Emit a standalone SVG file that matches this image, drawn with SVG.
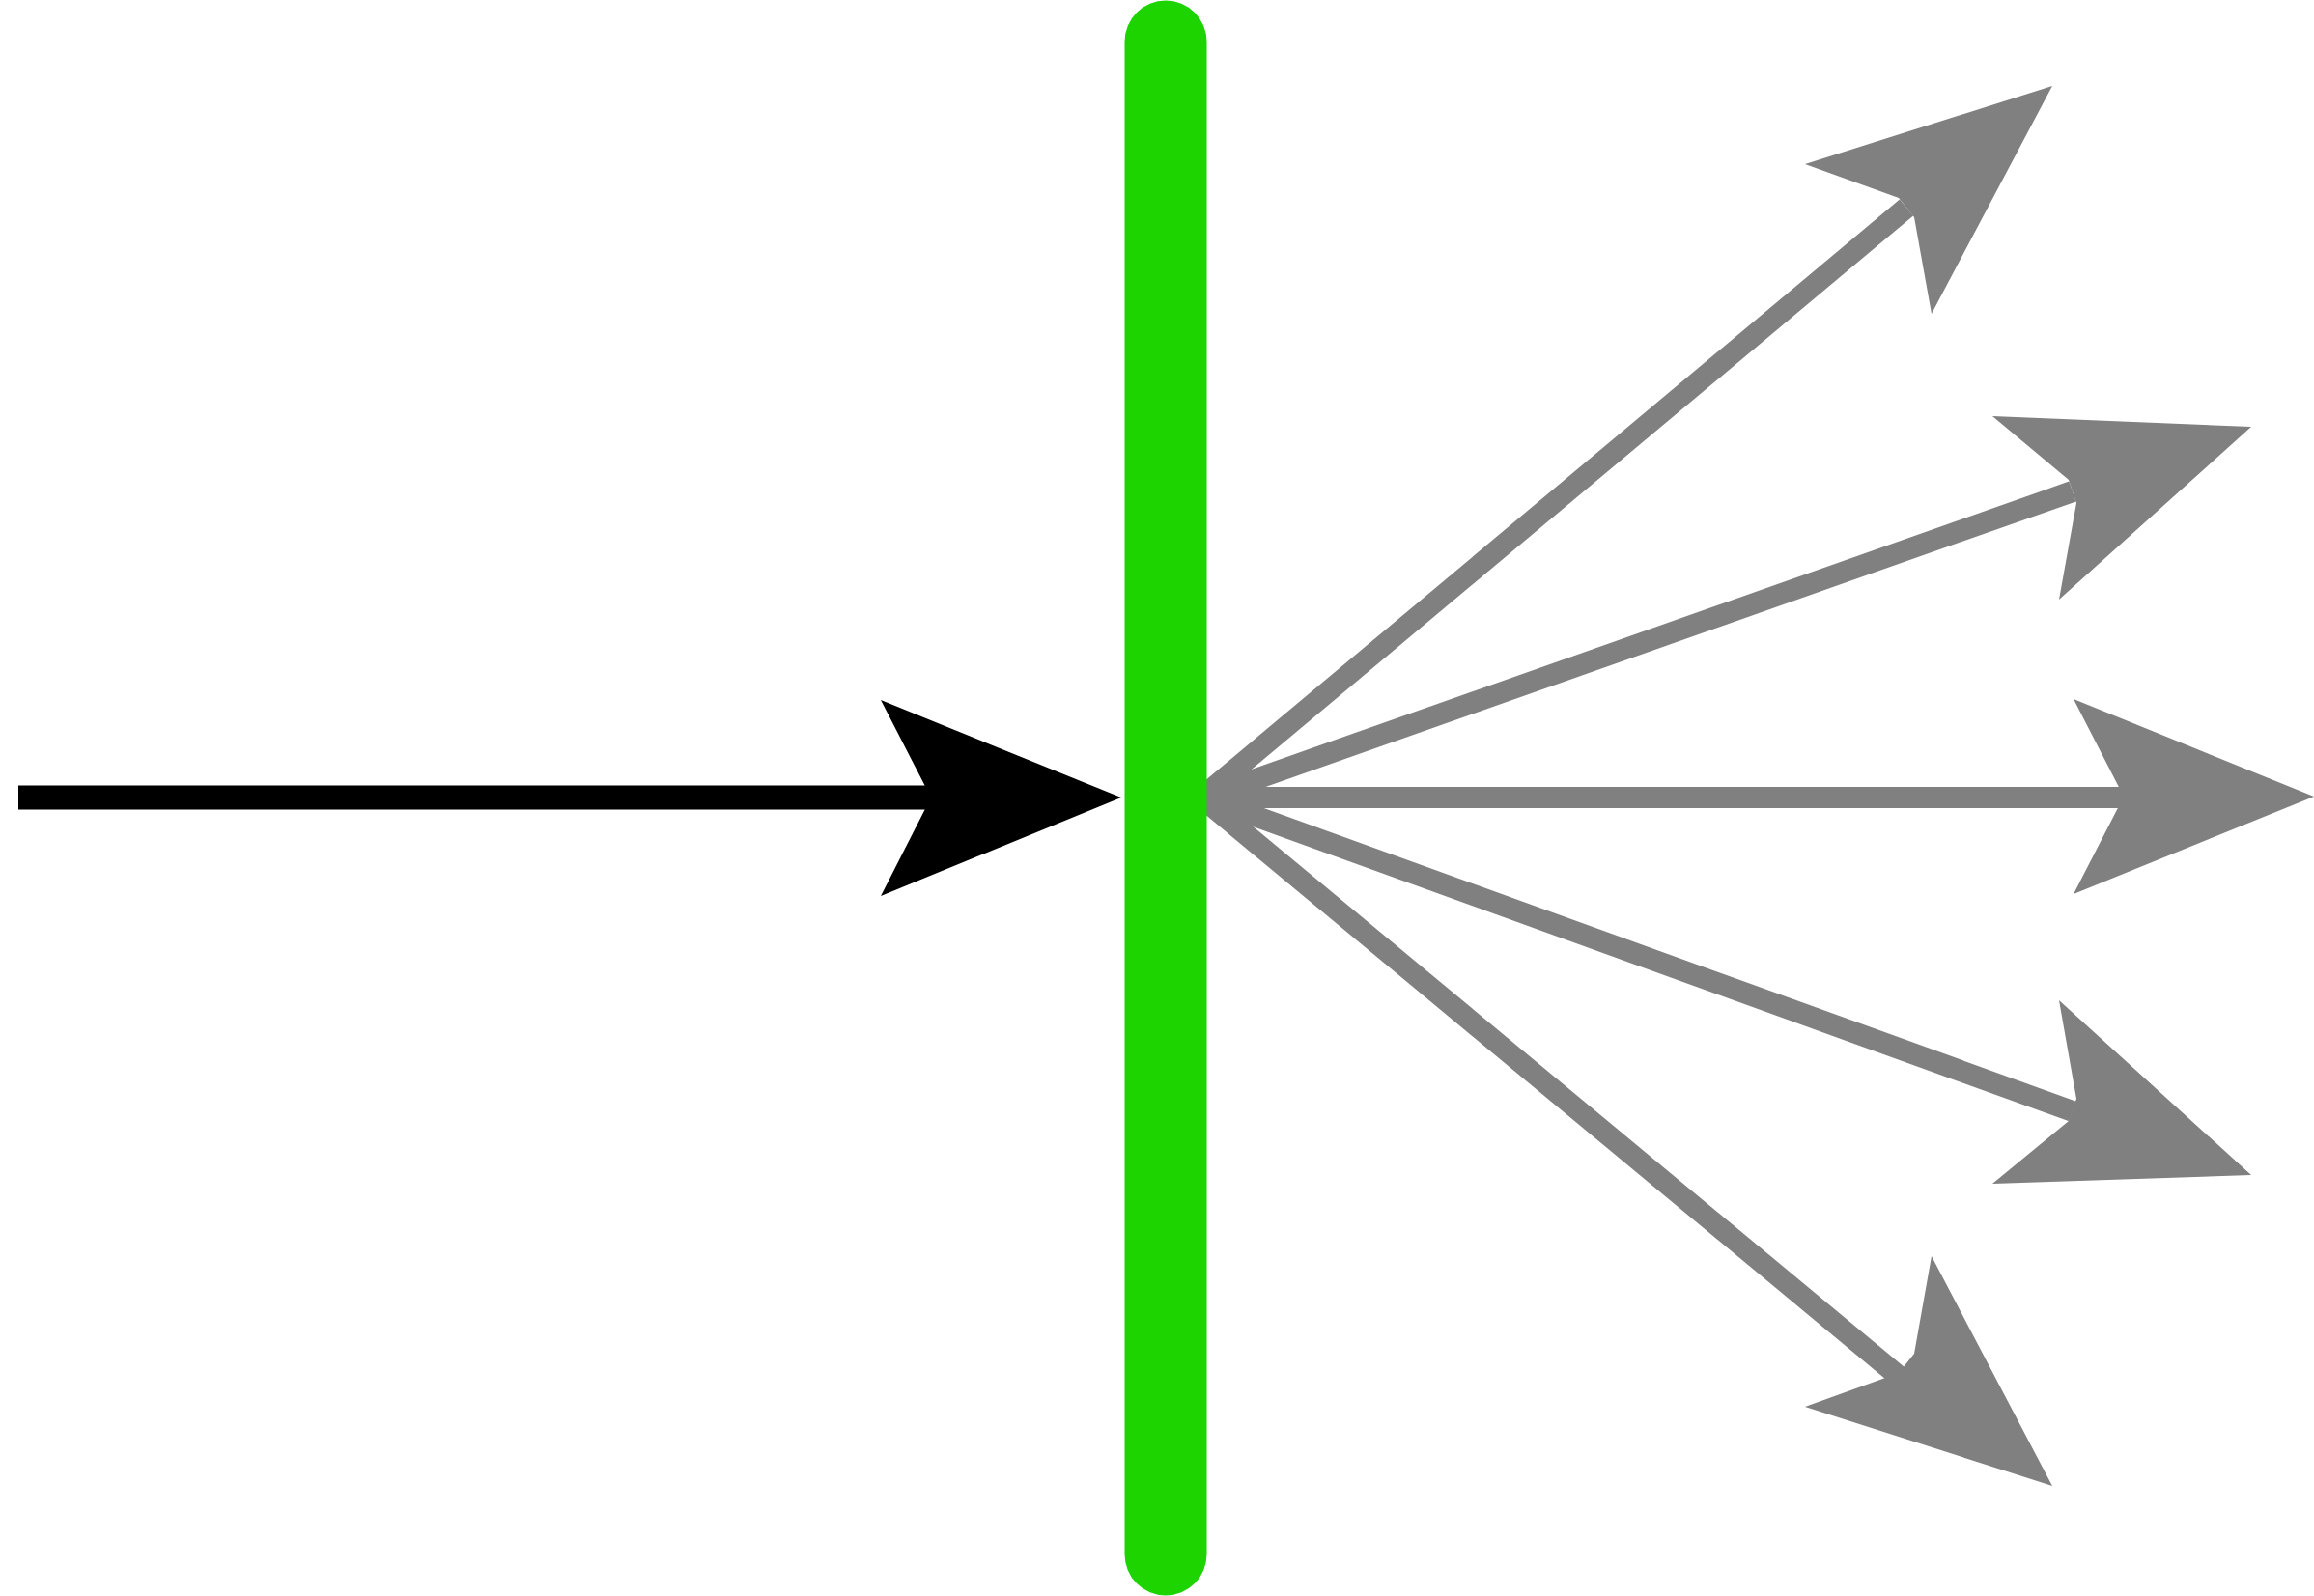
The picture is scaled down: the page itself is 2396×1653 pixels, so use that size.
<svg xmlns="http://www.w3.org/2000/svg" width="2396" height="1653" viewBox="0 0 2396 1653">
<style>.g{stroke:#808080;stroke-width:22;fill:none}.gh{fill:#808080}</style>
<rect width="2396" height="1653" fill="#fff"/>
<g id="connectors">
<line x1="19" y1="826" x2="970" y2="826" stroke="#000" stroke-width="25"/>
<polygon points="1161,826 912,725 964,826 912,928" fill="#000"/>
<path class="g" d="M1246,826 L2205,826"/>
<polygon class="gh" points="2396,825 2147,724 2199,825 2147,926"/>
<path class="g" d="M1244,826 L1974,215"/>
<polygon class="gh" points="2125,89 1869,170 1966,205 1982,225 2000,325"/>
<path class="g" d="M1246,826 L2146,509"/>
<polygon class="gh" points="2331,442 2063,431 2142,497 2150,521 2132,621"/>
<path class="g" d="M1246,826 L2146,1151"/>
<polygon class="gh" points="2331,1217 2063,1226 2142,1161 2150,1138 2132,1036"/>
<path class="g" d="M1244,826 L1974,1432"/>
<polygon class="gh" points="2125,1539 1869,1457 1966,1422 1982,1402 2000,1301"/>
</g>
<g id="barrier">
<line x1="1207" y1="43" x2="1207" y2="1610" stroke="#1DD400" stroke-width="85" stroke-linecap="round"/>
</g>
</svg>
